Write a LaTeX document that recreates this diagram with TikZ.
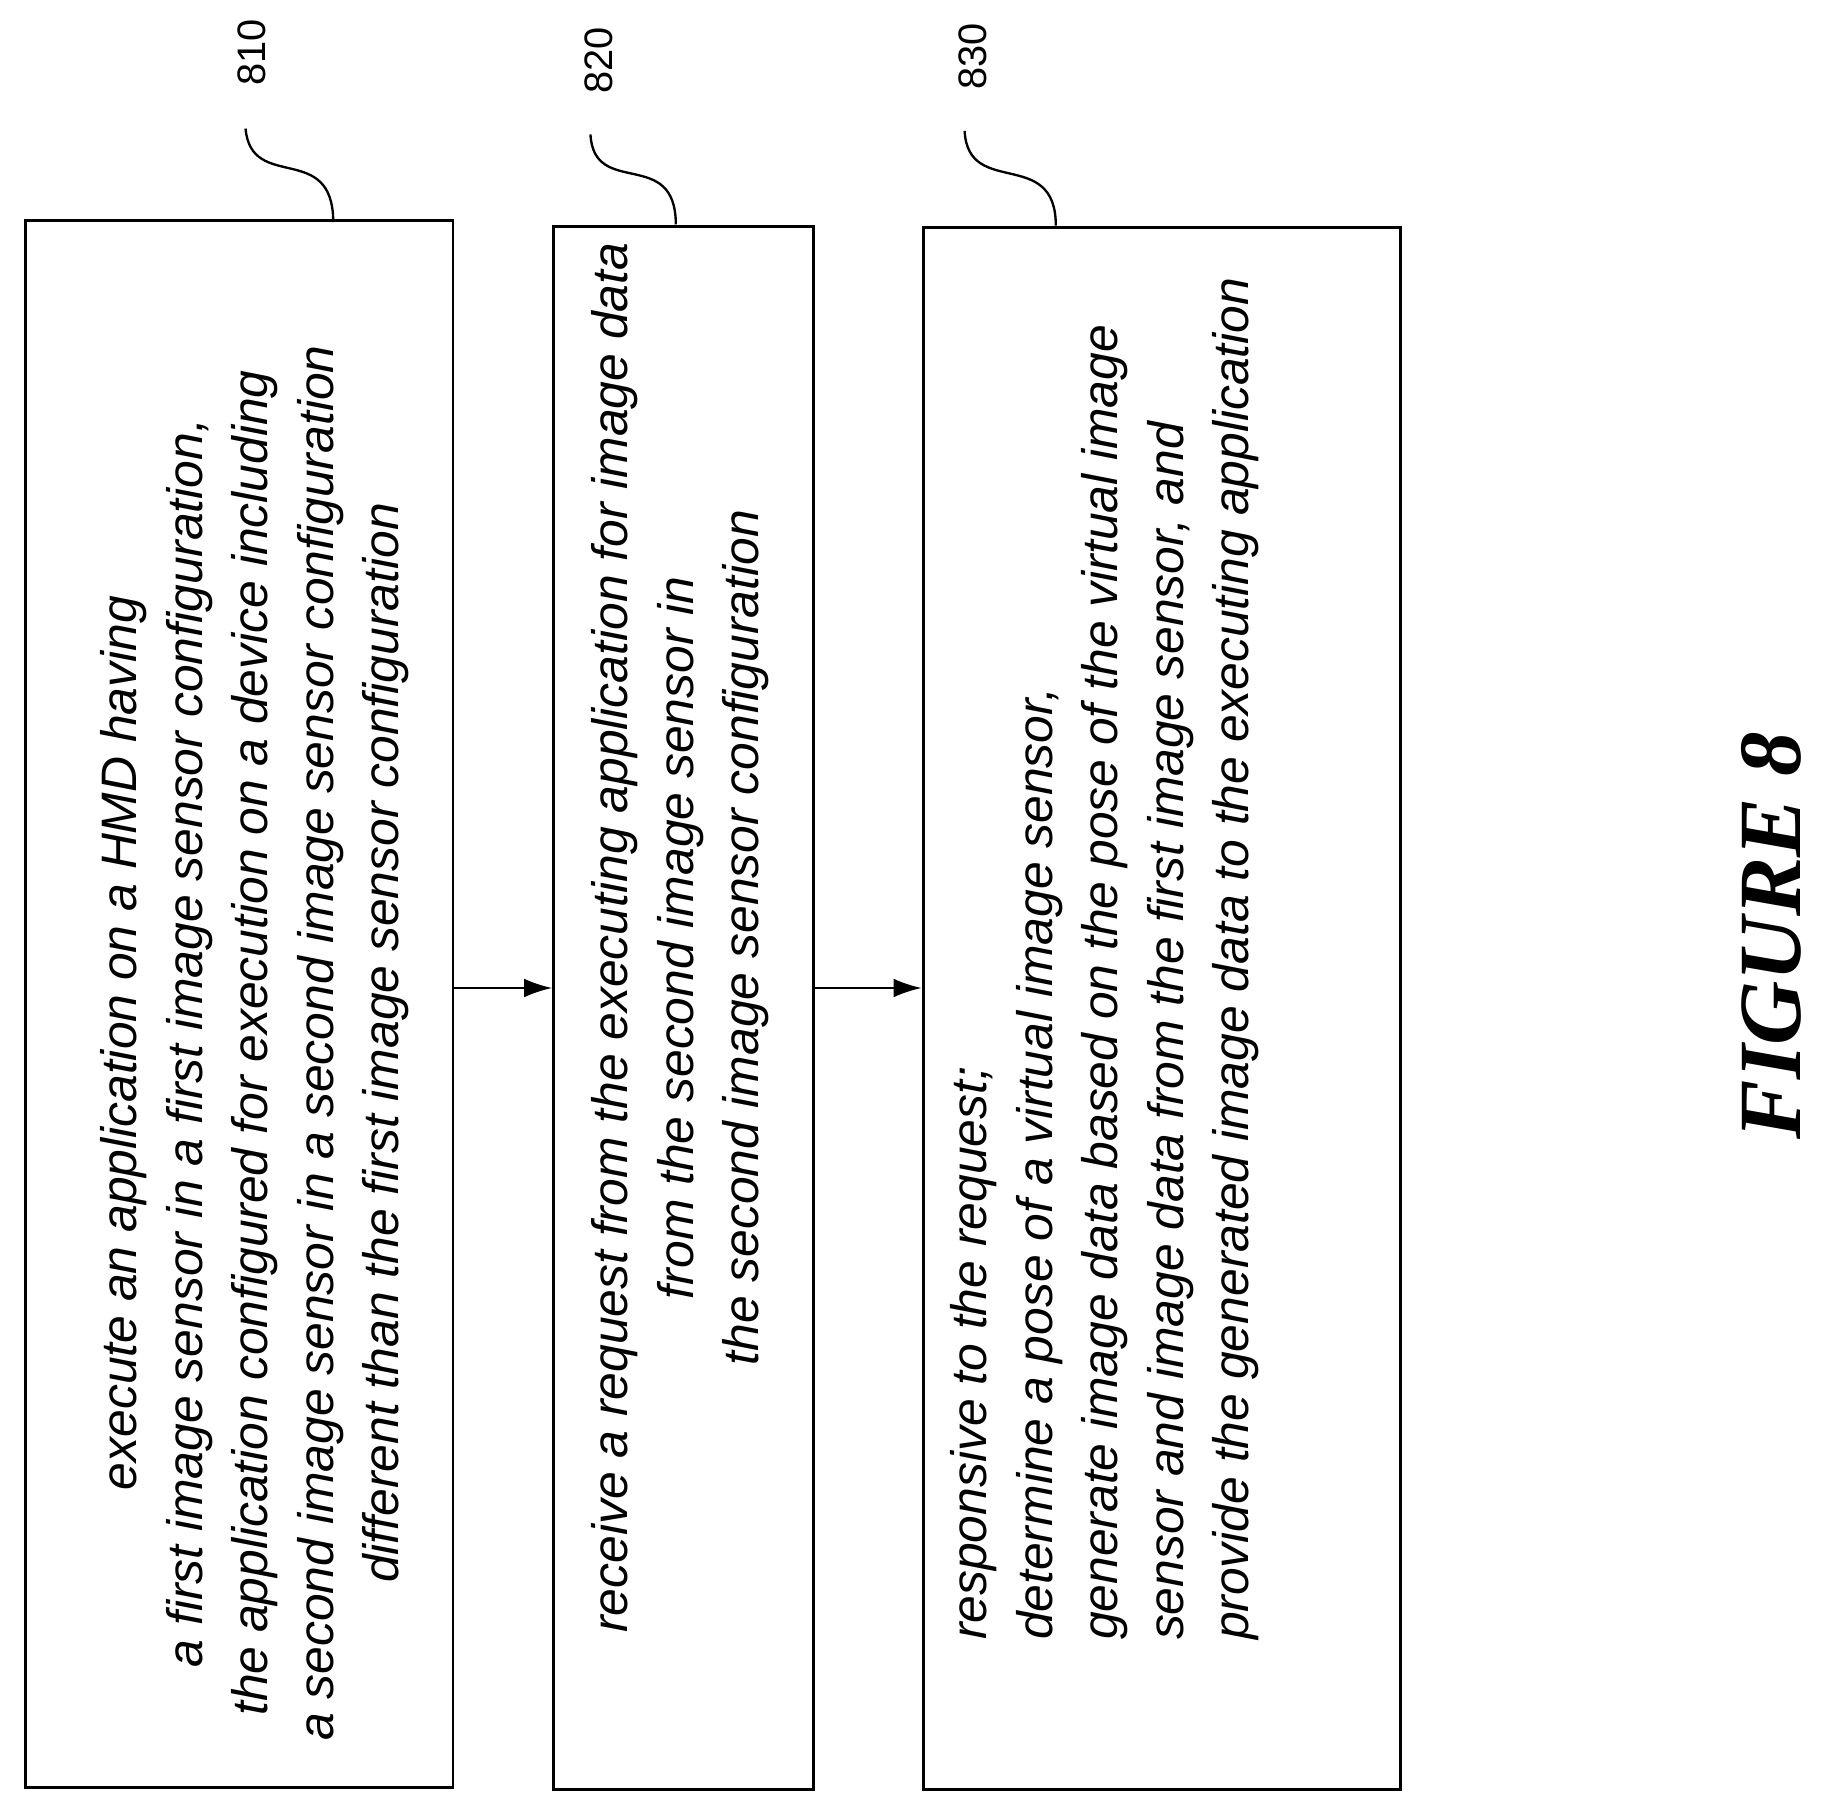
\documentclass[tikz,border=0pt]{standalone}
\usepackage{fontspec}
\setmainfont{Liberation Sans}
\newfontfamily\figfont{Liberation Serif}
\usetikzlibrary{arrows.meta}
\begin{document}
\begin{tikzpicture}[x=0.5pt,y=-0.5pt,
  box/.style={draw,line width=1.2pt,inner sep=0pt},
  txt/.style={rotate=90,font=\fontsize{21.3}{28}\selectfont\itshape,inner sep=0pt},
  lab/.style={rotate=90,font=\fontsize{17}{20}\selectfont},
  arr/.style={-{Latex[length=12pt,width=8pt]},line width=1pt}]
\useasboundingbox (0,0) rectangle (1560,1545);
\node[box,minimum width=183pt,minimum height=670pt] (b1) at (204.5,858.5) {};
\node[box,minimum width=111pt,minimum height=668.5pt] (b2) at (584.5,862) {};
\node[box,minimum width=204pt,minimum height=668pt] (b3) at (993.5,862.5) {};
\node[txt,align=center] (t1) at (218,892) {execute an application on a HMD having\\a first image sensor in a first image sensor configuration,\\the application configured for execution on a device including\\a second image sensor in a second image sensor configuration\\different than the first image sensor configuration};
\node[txt,align=center] (t2) at (582,802) {receive a request from the executing application for image data\\from the second image sensor in\\the second image sensor configuration};
\node[txt,align=left] (t3) at (945,820) {responsive to the request;\\determine a pose of a virtual image sensor,\\generate image data based on the pose of the virtual image\\sensor and image data from the first image sensor, and\\provide the generated image data to the executing application};
\draw[arr] (b1.east |- 0,845) -- (b2.west |- 0,845);
\draw[arr] (b2.east |- 0,845) -- (b3.west |- 0,845);
\node[lab] (l1) at (215,45) {810};
\node[lab] (l2) at (512,52) {820};
\node[lab] (l3) at (832,48) {830};
\coordinate (c1) at (285,190);
\coordinate (c2) at (578,192);
\coordinate (c3) at (903,193);
\draw[line width=1pt] (c1) .. controls (285,120) and (215,165) .. (210,110);
\draw[line width=1pt] (c2) .. controls (578,125) and (508,170) .. (505,115);
\draw[line width=1pt] (c3) .. controls (903,125) and (828,170) .. (825,112);
\node[rotate=90,font=\figfont\fontsize{38}{42}\selectfont\bfseries\itshape] (fig) at (1515,800) {FIGURE 8};
\end{tikzpicture}
\end{document}
